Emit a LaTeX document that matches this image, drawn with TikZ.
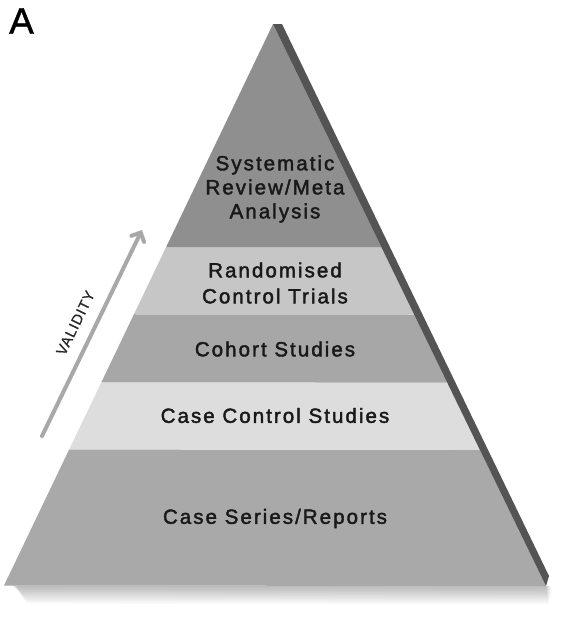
\documentclass[tikz,border=0pt]{standalone}
\usepackage{fontspec}
\setmainfont{Liberation Sans}
\newfontfamily\labelfont{Liberation Sans}[LetterSpace=10,FakeBold=2]
\newfontfamily\valfont{Liberation Sans}[LetterSpace=6,FakeBold=0.8]
\newfontfamily\letterfont{Liberation Sans}[FakeBold=1.2]
\usetikzlibrary{arrows.meta,calc}
\definecolor{ltop}{HTML}{8F8F8F}
\definecolor{lrand}{HTML}{C6C6C6}
\definecolor{lcoh}{HTML}{A7A7A7}
\definecolor{lcc}{HTML}{DDDDDD}
\definecolor{lser}{HTML}{A9A9A9}
\definecolor{lside}{HTML}{545454}
\definecolor{larrow}{HTML}{A8A8A8}
\tikzset{
  lvl/.style={align=center, font=\labelfont\fontsize{20.5}{24}\selectfont, text=black!90, inner sep=0pt},
}
\begin{document}
\begin{tikzpicture}[x=1pt,y=-1pt]
\useasboundingbox (0,0) rectangle (580,627);
\fill[white] (0,0) rectangle (580,627);
% geometry
\coordinate (apex) at (273,24);
\coordinate (bl) at (4,585.5);
\coordinate (br) at (546,586);
\coordinate (sidetop) at (282,24);
\coordinate (sidebot) at (549,576);
% shadow
\foreach \i in {1,...,14}{
  \fill[black,opacity=0.02] ($(bl)+(6+\i*0.5,0)$) -- ($(br)+(4-\i*0.3,0)$) -- ($(br)+(8-\i*0.4,\i*1.3)$) -- ($(bl)+(12+\i*0.8,\i*1.3)$) -- cycle;
}
% layers
\fill[lser] (bl) -- (br) -- ($(apex)!0.7576!(br)$) -- ($(apex)!0.7576!(bl)$) -- cycle;
\fill[lcc] ($(apex)!0.7576!(bl)$) -- ($(apex)!0.7576!(br)$) -- ($(apex)!0.6381!(br)$) -- ($(apex)!0.6381!(bl)$) -- cycle;
\fill[lcoh] ($(apex)!0.6381!(bl)$) -- ($(apex)!0.6381!(br)$) -- ($(apex)!0.5169!(br)$) -- ($(apex)!0.5169!(bl)$) -- cycle;
\fill[lrand] ($(apex)!0.5169!(bl)$) -- ($(apex)!0.5169!(br)$) -- ($(apex)!0.3975!(br)$) -- ($(apex)!0.3975!(bl)$) -- cycle;
\fill[ltop] ($(apex)!0.3975!(bl)$) -- ($(apex)!0.3975!(br)$) -- (apex) -- cycle;
% side face
\fill[lside] (apex) -- (sidetop) -- (sidebot) -- (br) -- cycle;
% labels
\node[lvl] (sys) at (275,189) {Systematic\\Review/Meta\\Analysis};
\node[lvl, font=\labelfont\fontsize{20.5}{26}\selectfont] (rct) at (275,283) {Randomised\\Control Trials};
\node[lvl] (coh) at (275,349) {Cohort Studies};
\node[lvl] (ccs) at (275,415.5) {Case Control Studies};
\node[lvl] (csr) at (275,518.5) {Case Series/Reports};
% validity arrow
\coordinate (vstart) at (42,436);
\coordinate (vend) at (142,230);
\draw[larrow, line width=4pt, line cap=round, -{Straight Barb[length=7pt,width=14pt,line cap=round]}] (vstart) -- (vend);
\node[font=\valfont\fontsize{14.5}{14.5}\selectfont, text=black!85, rotate=64, inner sep=0pt] (val) at (75.5,323) {VALIDITY};
% panel letter
\node[font=\letterfont\fontsize{37}{37}\selectfont, inner sep=0pt] (lettera) at (21.5,21) {A};
\end{tikzpicture}
\end{document}
